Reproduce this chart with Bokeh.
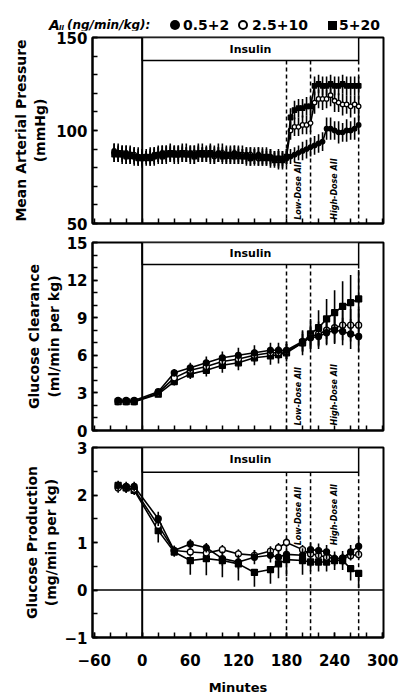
import math
from bokeh.plotting import figure
from bokeh.layouts import column
from bokeh.models import FixedTicker, Range1d, Span, Div
from bokeh.embed import file_html
from bokeh.resources import INLINE
from bokeh.core.properties import value

FONT = "DejaVu Sans"

# ---------------- shared x axis ----------------
x_ticks = [-60, 0, 60, 120, 180, 240, 300]
x_minor = [-60, -40, -20, 0, 20, 40, 60, 80, 100, 120, 140, 160, 180, 200, 220, 240, 260, 280, 300]
insulin_start = 0
insulin_end = 270
dose_lines = [180, 210, 270]
dose_labels = ["Low-Dose AII", "High-Dose AII"]
dose_label_x = [195, 240]
legend_doses = ["0.5+2", "2.5+10", "5+20"]

# ---------------- panel 1: mean arterial pressure (mmHg) ----------------
map_minutes = list(range(-35, 271, 5))
map_low = [89, 88, 87, 88, 87, 86, 86,
           85, 86, 86, 87, 87, 88, 87, 88, 88, 87, 88, 87,
           88, 87, 88, 87, 87, 88, 87, 88, 87, 86, 87, 88,
           87, 86, 87, 86, 86, 87, 86, 85, 86, 85, 85, 84,
           85, 86, 87, 88, 89, 90, 91,
           92, 93, 94, 101, 101, 100, 99, 99, 100, 100, 101, 103]
map_mid = [88, 87, 88, 87, 86, 87, 86,
           86, 85, 86, 86, 87, 87, 88, 87, 87, 88, 87, 88,
           87, 88, 88, 87, 88, 87, 86, 87, 88, 87, 86, 87,
           86, 87, 86, 87, 86, 85, 86, 86, 85, 85, 84, 85,
           86, 100, 102, 102, 103, 103, 104,
           115, 117, 117, 117, 119, 116, 115, 114, 114, 113, 114, 113]
map_high = [87, 88, 87, 86, 87, 86, 85,
            85, 86, 85, 86, 87, 86, 87, 88, 87, 87, 88, 87,
            87, 86, 87, 88, 87, 88, 87, 87, 86, 87, 87, 86,
            87, 86, 86, 85, 86, 86, 85, 86, 85, 84, 85, 84,
            86, 107, 111, 112, 112, 113, 113,
            124, 125, 124, 124, 125, 124, 124, 125, 124, 124, 124, 124]
map_low_err = [4, 5, 4, 4, 5, 4, 4,
               4, 3, 4, 4, 5, 4, 4, 5, 4, 4, 5, 4,
               4, 5, 4, 4, 4, 5, 4, 5, 4, 4, 5, 4,
               5, 4, 4, 5, 4, 4, 5, 4, 4, 4, 5, 4,
               4, 4, 4, 4, 5, 5, 5,
               5, 5, 5, 6, 6, 5, 6, 5, 6, 5, 6, 5]
map_mid_err = [5, 4, 4, 5, 4, 4, 5,
               4, 4, 5, 4, 4, 5, 4, 4, 5, 4, 4, 5,
               4, 4, 5, 4, 4, 5, 4, 4, 5, 4, 4, 5,
               4, 5, 4, 4, 5, 4, 4, 5, 4, 4, 5, 4,
               4, 5, 5, 5, 5, 5, 5,
               6, 5, 6, 5, 6, 6, 5, 6, 5, 6, 5, 6]
map_high_err = [4, 4, 5, 4, 4, 5, 4,
                5, 4, 4, 5, 4, 4, 5, 4, 4, 5, 4, 4,
                5, 4, 4, 5, 4, 4, 5, 4, 4, 5, 4, 4,
                4, 4, 5, 4, 4, 5, 4, 4, 5, 4, 4, 5,
                4, 5, 5, 5, 5, 5, 5,
                5, 5, 5, 5, 5, 5, 5, 5, 5, 5, 5, 5]

# ---------------- panel 2: glucose clearance (ml/min per kg) ----------------
gc_minutes = [-30, -20, -10, 20, 40, 60, 80, 100, 120, 140, 160, 170, 180,
              200, 210, 220, 230, 240, 250, 260, 270]
gc_low = [2.4, 2.4, 2.4, 3.1, 4.6, 5.0, 5.4, 5.8, 6.0, 6.2, 6.4, 6.4, 6.4,
          7.1, 7.4, 7.5, 7.8, 8.0, 7.9, 7.7, 7.5]
gc_mid = [2.3, 2.3, 2.3, 3.0, 4.2, 4.8, 5.1, 5.5, 5.7, 6.0, 6.2, 6.2, 6.3,
          7.0, 7.5, 7.7, 8.0, 8.2, 8.4, 8.4, 8.4]
gc_high = [2.3, 2.3, 2.3, 2.9, 3.9, 4.5, 4.8, 5.2, 5.4, 5.8, 5.95, 6.05, 6.2,
           7.0, 7.7, 8.2, 8.9, 9.4, 9.9, 10.2, 10.5]
gc_low_err = [0.2, 0.2, 0.2, 0.2, 0.3, 0.4, 0.5, 0.5, 0.6, 0.6, 0.6, 0.6, 0.7,
              0.8, 0.9, 1.0, 1.0, 1.1, 1.1, 1.2, 1.2]
gc_mid_err = [0.2, 0.2, 0.2, 0.2, 0.3, 0.3, 0.4, 0.4, 0.5, 0.5, 0.5, 0.5, 0.6,
              0.7, 0.9, 1.0, 1.1, 1.2, 1.2, 1.3, 1.3]
gc_high_err = [0.2, 0.2, 0.2, 0.2, 0.3, 0.4, 0.5, 0.6, 0.6, 0.6, 0.7, 0.7, 0.7,
               1.0, 1.2, 1.4, 1.6, 1.8, 2.0, 2.2, 2.3]

# ---------------- panel 3: glucose production (mg/min per kg) ----------------
gp_minutes = [-30, -20, -10, 20, 40, 60, 80, 100, 120, 140, 160, 170, 180,
              200, 210, 220, 230, 240, 250, 260, 270]
gp_low = [2.20, 2.18, 2.18, 1.50, 0.83, 0.97, 0.89, 0.66, 0.59, 0.69, 0.73, 0.69, 0.75,
          0.73, 0.85, 0.83, 0.80, 0.66, 0.67, 0.80, 0.92]
gp_mid = [2.15, 2.15, 2.12, 1.36, 0.83, 0.80, 0.78, 0.85, 0.76, 0.73, 0.82, 0.89, 1.00,
          0.85, 0.76, 0.73, 0.69, 0.66, 0.67, 0.72, 0.75]
gp_high = [2.20, 2.15, 2.10, 1.25, 0.80, 0.62, 0.66, 0.62, 0.55, 0.37, 0.43, 0.55, 0.64,
           0.62, 0.59, 0.59, 0.59, 0.62, 0.62, 0.45, 0.35]
gp_low_err = [0.1, 0.1, 0.1, 0.15, 0.1, 0.1, 0.1, 0.15, 0.15, 0.15, 0.15, 0.15, 0.15,
              0.15, 0.15, 0.15, 0.15, 0.15, 0.15, 0.15, 0.2]
gp_mid_err = [0.1, 0.1, 0.1, 0.1, 0.1, 0.1, 0.1, 0.1, 0.1, 0.1, 0.1, 0.1, 0.1,
              0.1, 0.1, 0.1, 0.1, 0.1, 0.1, 0.1, 0.1]
gp_high_err = [0.1, 0.1, 0.1, 0.25, 0.1, 0.3, 0.35, 0.35, 0.35, 0.3, 0.3, 0.3, 0.35,
               0.3, 0.2, 0.2, 0.2, 0.2, 0.2, 0.25, 0.3]

W = 401


def style_axis(ax):
    ax.axis_line_width = 2
    ax.axis_line_color = "black"
    ax.major_tick_in = 5
    ax.major_tick_out = 0
    ax.minor_tick_in = 5
    ax.minor_tick_out = 0
    ax.major_tick_line_width = 1.5
    ax.minor_tick_line_width = 1.5
    ax.major_tick_line_color = "black"
    ax.minor_tick_line_color = "black"
    ax.major_label_text_font = FONT
    ax.major_label_text_font_style = "bold"
    ax.major_label_text_font_size = "15px"
    ax.major_label_text_line_height = 1.0
    ax.major_label_text_color = "black"
    ax.axis_label_text_font = FONT
    ax.axis_label_text_font_style = "bold"
    ax.axis_label_text_font_size = "14px"
    ax.axis_label_text_color = "black"


def make_panel(h, y0, y1, top, bottom, yticks, yminor, ylabel, box_bottom,
               label_y, show_x, ylabel_standoff):
    p = figure(width=W, height=h, x_range=Range1d(-62, 301),
               y_range=Range1d(y0, y1), output_backend="svg",
               toolbar_location=None, min_border_left=92, min_border_right=18,
               min_border_top=top, min_border_bottom=bottom)
    p.grid.visible = False
    p.outline_line_color = "black"
    p.outline_line_width = 2
    style_axis(p.xaxis[0])
    style_axis(p.yaxis[0])
    if show_x:
        p.xaxis.ticker = FixedTicker(ticks=x_ticks, minor_ticks=x_minor)
        p.xaxis.axis_label = "Minutes"
        p.xaxis.major_label_standoff = 16
        p.xaxis.axis_label_standoff = 11
        p.xaxis.axis_label_text_font_size = "13px"
    else:
        p.xaxis.ticker = FixedTicker(ticks=[], minor_ticks=x_minor)
        p.xaxis.major_label_standoff = 0
    p.yaxis.ticker = FixedTicker(ticks=yticks, minor_ticks=yminor)
    p.yaxis.axis_label = ylabel
    p.yaxis.axis_label_standoff = ylabel_standoff

    # insulin bar
    p.quad(left=[insulin_start], right=[insulin_end], top=[y1], bottom=[box_bottom],
           fill_color="white", line_color="black", line_width=1.5)
    p.text(x=[(insulin_start + insulin_end) / 2], y=[(y1 + box_bottom) / 2],
           text=["Insulin"], text_align="center", text_baseline="middle",
           text_font=value(FONT), text_font_style="bold", text_font_size="11px",
           text_color="black")
    p.add_layout(Span(location=insulin_start, dimension="height",
                      line_color="black", line_width=2))
    p.segment(x0=dose_lines, y0=[box_bottom] * 3, x1=dose_lines, y1=[y0] * 3,
              line_color="black", line_width=1.5, line_dash="4 3")
    p.text(x=dose_label_x, y=[label_y] * 2, text=dose_labels, angle=math.pi / 2,
           text_align="left", text_baseline="middle", text_font=value(FONT),
           text_font_style="bold italic", text_font_size="8px", text_color="black")
    return p


def draw_series(p, t, v, e, marker, fill, size, down_only=False, lw=1.6):
    lo = [a - b for a, b in zip(v, e)]
    hi = list(v) if down_only else [a + b for a, b in zip(v, e)]
    p.segment(x0=t, y0=lo, x1=t, y1=hi, line_color="black", line_width=lw)
    p.line(t, v, line_color="black", line_width=1.6)
    p.scatter(t, v, marker=marker, size=size, fill_color=fill,
              line_color="black", line_width=1.3)


# ---------------- legend header (HTML text) ----------------
def span(left, top, size, txt, style="bold", lh=18):
    fs = "italic" if "italic" in style else "normal"
    return (f'<span style="position:absolute; left:{left}px; top:{top}px; '
            f'font-family:\'{FONT}\'; font-weight:bold; font-style:{fs}; '
            f'font-size:{size}px; line-height:{lh}px; color:black; white-space:nowrap;">'
            f'{txt}</span>')


def shape(left, top, w, h, css):
    return (f'<span style="position:absolute; left:{left}px; top:{top}px; '
            f'width:{w}px; height:{h}px; box-sizing:border-box; {css}"></span>')


hdr_html = ('<div style="position:relative; width:401px; height:30px;">'
            + span(49, 16, 14, "A", "bold italic")
            + span(59, 24, 7, "II", "bold italic", 8)
            + span(67, 16, 12, "(ng/min/kg):", "bold italic")
            + shape(170, 20, 10, 10, "background:black; border-radius:50%;")
            + span(183, 16, 14, legend_doses[0])
            + shape(238, 20, 10, 10, "background:white; border:2px solid black; border-radius:50%;")
            + span(252, 16, 14, legend_doses[1])
            + shape(328, 21, 9, 9, "background:black;")
            + span(339, 16, 14, legend_doses[2])
            + '</div>')
hdr = Div(text=hdr_html, width=W, height=30, margin=(0, 0, 0, 0))

# ---------------- panel 1 ----------------
p1 = make_panel(203, 50, 150, 7, 10, [50, 100, 150], list(range(50, 151, 10)),
                "Mean Arterial Pressure\n(mmHg)", 137.6, 52, False, 5)
draw_series(p1, map_minutes, map_mid, map_mid_err, "circle", "white", 4.5)
draw_series(p1, map_minutes, map_high, map_high_err, "square", "black", 4.5)
draw_series(p1, map_minutes, map_low, map_low_err, "circle", "black", 4.5)

# ---------------- panel 2 ----------------
p2 = make_panel(206, 0, 15, 9, 9, [0, 3, 6, 9, 12, 15], list(range(0, 16)),
                "Glucose Clearance\n(ml/min per kg)", 13.25, 0.4, False, 2)
draw_series(p2, gc_minutes, gc_high, gc_high_err, "square", "black", 6)
draw_series(p2, gc_minutes, gc_mid, gc_mid_err, "circle", "white", 6)
draw_series(p2, gc_minutes, gc_low, gc_low_err, "circle", "black", 6)

# ---------------- panel 3 ----------------
p3 = make_panel(259, -1, 3, 8, 61, [-1, 0, 1, 2, 3],
                [-1, -0.5, 0, 0.5, 1, 1.5, 2, 2.5, 3],
                "Glucose Production\n(mg/min per kg)", 2.48, 0.94, True, 2)
p3.add_layout(Span(location=0, dimension="width", line_color="black", line_width=1.5))
draw_series(p3, gp_minutes, gp_high, gp_high_err, "square", "black", 6, down_only=True)
draw_series(p3, gp_minutes, gp_mid, gp_mid_err, "circle", "white", 6)
draw_series(p3, gp_minutes, gp_low, gp_low_err, "circle", "black", 6)

layout = column(hdr, p1, p2, p3, spacing=0)
open("out.html", "w").write(file_html(layout, INLINE))
